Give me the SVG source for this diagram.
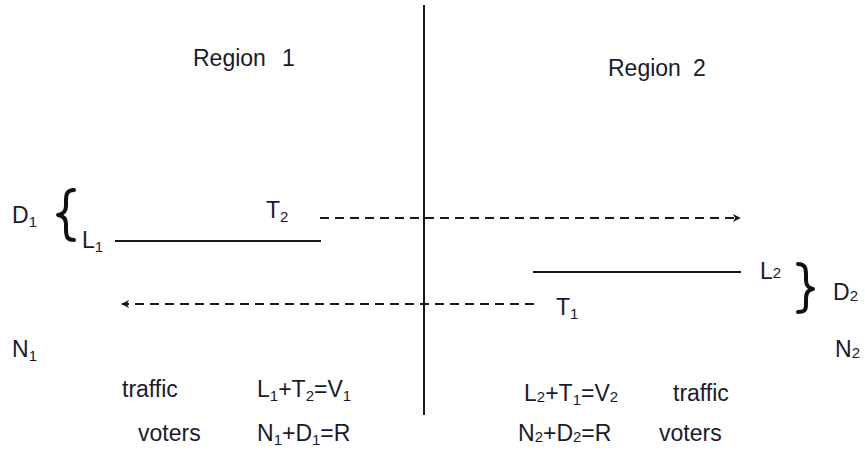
<svg xmlns="http://www.w3.org/2000/svg" width="865" height="457" viewBox="0 0 865 457">
  <style>
    text { font-family: "Liberation Sans", Arial, sans-serif; font-size: 23px; fill: #1a1a2e; }
    .sub { font-size: 15px; }
    .solid { stroke: #1a1a1a; stroke-width: 2; fill: none; }
    .dash { stroke: #1a1a1a; stroke-width: 2; fill: none; stroke-dasharray: 9 6; }
    .brace { stroke: #111; stroke-width: 4; fill: none; stroke-linecap: round; stroke-linejoin: round; }
  </style>
  <defs>
    <marker id="arrow" viewBox="0 0 10 10" refX="9" refY="5" markerWidth="4" markerHeight="4" orient="auto-start-reverse">
      <path d="M0,0 L10,5 L0,10 L3,5 Z" fill="#1a1a1a"/>
    </marker>
  </defs>

  <!-- dividing line between the two regions -->
  <g id="divider">
    <line class="solid" x1="424" y1="5" x2="424" y2="415"/>
  </g>

  <g id="region1-title">
    <text x="193" y="66">Region<tspan x="282">1</tspan></text>
  </g>
  <g id="region2-title">
    <text x="608" y="76">Region<tspan x="693">2</tspan></text>
  </g>

  <!-- Region 1 side -->
  <g id="d1">
    <text x="12" y="223">D<tspan class="sub" dy="4">1</tspan></text>
  </g>
  <g id="brace-left">
    <path class="brace" d="M74 190 C67 190 66 194 66 201 L66 206 C66 211 64 214 58 215 C64 216 66 219 66 224 L66 229 C66 236 67 240 74 240"/>
  </g>
  <g id="l1">
    <text x="82" y="248">L<tspan class="sub" dy="4">1</tspan></text>
    <line class="solid" x1="115" y1="241" x2="321" y2="241"/>
  </g>
  <g id="t2">
    <text x="266" y="218">T<tspan class="sub" dy="4">2</tspan></text>
  </g>
  <g id="n1">
    <text x="12" y="357">N<tspan class="sub" dy="4">1</tspan></text>
  </g>

  <!-- Region 2 side -->
  <g id="l2">
    <line class="solid" x1="533" y1="272" x2="741" y2="272"/>
    <text x="760" y="279">L<tspan class="sub" dy="-1">2</tspan></text>
  </g>
  <g id="brace-right">
    <path class="brace" d="M798 264 C805 264 806 268 806 275 L806 280 C806 285 808 288 813 289 C808 290 806 293 806 298 L806 304 C806 310 805 312 798 312"/>
  </g>
  <g id="d2">
    <text x="833" y="300">D<tspan class="sub" dy="1">2</tspan></text>
  </g>
  <g id="t1">
    <text x="556" y="315">T<tspan class="sub" dy="4">1</tspan></text>
  </g>
  <g id="n2">
    <text x="835" y="357">N<tspan class="sub" dy="1">2</tspan></text>
  </g>

  <!-- flows across the boundary -->
  <g id="connectors">
    <line class="dash" x1="320" y1="218" x2="740" y2="218" marker-end="url(#arrow)"/>
    <line class="dash" x1="534" y1="304" x2="122" y2="304" marker-end="url(#arrow)"/>
  </g>

  <!-- balance equations -->
  <g id="region1-equations">
    <text x="122" y="397">traffic</text>
    <text x="257" y="397">L<tspan class="sub" dy="4">1</tspan><tspan dy="-4">+T</tspan><tspan class="sub" dy="4">2</tspan><tspan dy="-4">=V</tspan><tspan class="sub" dy="4">1</tspan></text>
    <text x="138" y="441">voters</text>
    <text x="257" y="441">N<tspan class="sub" dy="4">1</tspan><tspan dy="-4">+D</tspan><tspan class="sub" dy="4">1</tspan><tspan dy="-4">=R</tspan></text>
  </g>
  <g id="region2-equations">
    <text x="524" y="401">L<tspan class="sub" dy="1">2</tspan><tspan dy="-1">+T</tspan><tspan class="sub" dy="4">1</tspan><tspan dy="-4">=V</tspan><tspan class="sub" dy="1">2</tspan></text>
    <text x="673" y="401">traffic</text>
    <text x="518" y="441">N<tspan class="sub" dy="1">2</tspan><tspan dy="-1">+D</tspan><tspan class="sub" dy="1">2</tspan><tspan dy="-1">=R</tspan></text>
    <text x="659" y="441">voters</text>
  </g>
</svg>
